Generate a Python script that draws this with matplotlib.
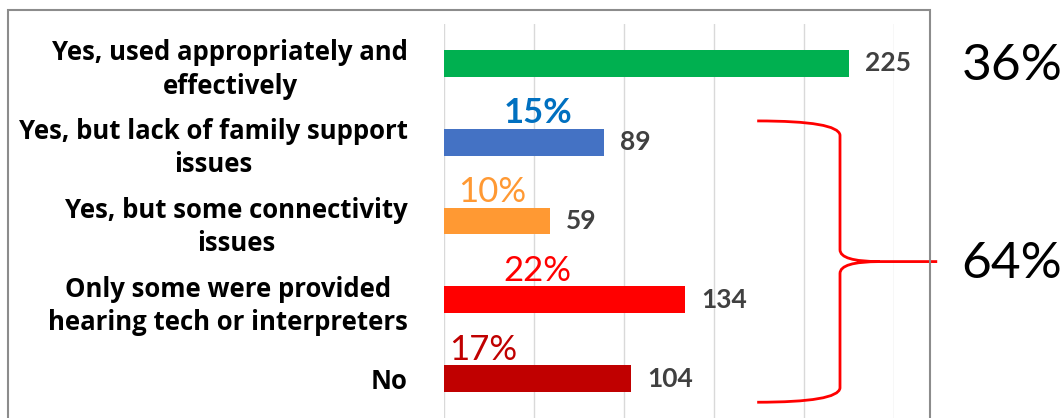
import matplotlib
matplotlib.use("Agg")
import matplotlib.pyplot as plt
from matplotlib.path import Path
from matplotlib.patches import PathPatch, Rectangle

plt.rcParams["font.family"] = ["Lato", "DejaVu Sans"]

# survey answers, top to bottom
categories = [
    "Yes, used appropriately and\neffectively",
    "Yes, but lack of family support\nissues",
    "Yes, but some connectivity\nissues",
    "Only some were provided\nhearing tech or interpreters",
    "No",
]
counts = [225, 89, 59, 134, 104]
bar_colors = ["#00B050", "#4472C4", "#FF9933", "#FF0000", "#C00000"]

# share labels over the "yes, but" / "no" bars
share_labels = ["15%", "10%", "22%", "17%"]
share_x = [52, 27, 52, 22]
share_colors = ["#0070C0", "#FF9933", "#FF0000", "#C00000"]
share_bold = [True, False, False, False]

group_labels = ["36%", "64%"]

fig = plt.figure(figsize=(10.62, 4.18), dpi=100)
ax = fig.add_axes([444 / 1062, 0.0, 450 / 1062, 1 - 24 / 418])

y = list(range(len(categories)))
bars = ax.barh(y, counts, height=0.34, color=bar_colors, zorder=3)
ax.bar_label(bars, labels=[str(c) for c in counts], padding=11.5,
             fontsize=19, fontweight="bold", color="#404040")

ax.set_xlim(0, 250)
ax.set_ylim(4.5, -0.5)
ax.set_xticks(range(0, 251, 50))
ax.xaxis.grid(True, color="#D9D9D9", lw=1.0, zorder=0)
ax.tick_params(axis="x", length=0, labelbottom=False)
for s in ax.spines.values():
    s.set_visible(False)

ax.set_yticks(y)
ax.set_yticklabels(categories, fontsize=18.5, fontweight="bold", color="black",
                   family=["Open Sans", "DejaVu Sans"], linespacing=1.3)
ax.tick_params(axis="y", length=0, pad=26)
for lbl in ax.get_yticklabels():
    lbl.set_multialignment("center")

for i, (txt, xv, col, bold) in enumerate(zip(share_labels, share_x, share_colors, share_bold)):
    ax.text(xv, i + 1 - 0.24, txt, ha="center", va="baseline", fontsize=25,
            color=col, fontweight="bold" if bold else "normal", zorder=4)

# curly brace grouping the last four answers
x_end, x_spine, x_tip = 174, 220, 274
y_top, y_bot = 0.73, 4.30
y_mid = (y_top + y_bot) / 2
verts = [
    (x_end, y_top), (x_spine - 1, y_top), (x_spine, y_top + 0.18),
    (x_spine, y_mid - 0.15),
    (x_spine, y_mid), (x_spine + 22, y_mid),
    (x_tip, y_mid),
    (x_spine + 22, y_mid), (x_spine, y_mid), (x_spine, y_mid + 0.15),
    (x_spine, y_bot - 0.18),
    (x_spine - 1, y_bot), (x_end, y_bot),
]
codes = [
    Path.MOVETO, Path.CURVE3, Path.CURVE3,
    Path.LINETO,
    Path.CURVE3, Path.CURVE3,
    Path.LINETO,
    Path.MOVETO, Path.CURVE3, Path.CURVE3,
    Path.LINETO,
    Path.CURVE3, Path.CURVE3,
]
ax.add_patch(PathPatch(Path(verts, codes), fill=False, edgecolor="#FF0000",
                       lw=2, clip_on=False, zorder=5))

# chart area border
fig.patches.append(Rectangle((8 / 1062, -0.1), 922 / 1062, 1.1 - 10 / 418,
                             transform=fig.transFigure, fill=False,
                             edgecolor="#8C8C8C", lw=1.5, zorder=1))

fig.text(962 / 1062, 1 - 80 / 418, group_labels[0], fontsize=37, color="black",
         ha="left", va="baseline")
fig.text(961 / 1062, 1 - 278 / 418, group_labels[1], fontsize=37, color="black",
         ha="left", va="baseline")

fig.savefig("out.png", dpi=100)
